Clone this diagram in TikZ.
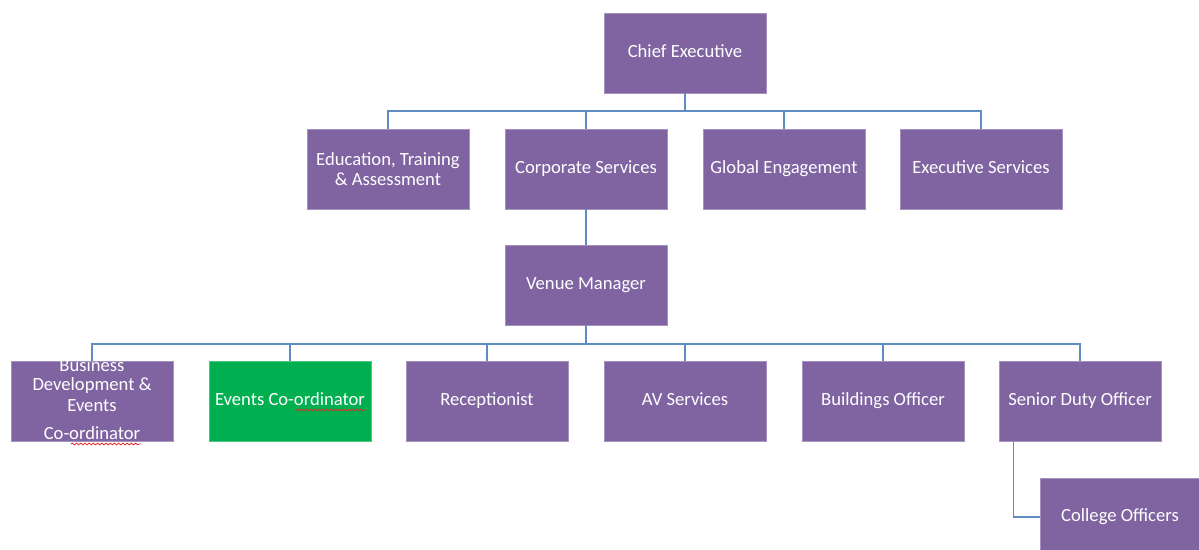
\documentclass[tikz,border=0pt]{standalone}
\usepackage{fontspec}
\setmainfont{Carlito}
\usetikzlibrary{decorations.pathmorphing}

\definecolor{orgpurple}{RGB}{128,100,162}
\definecolor{orggreen}{RGB}{0,176,80}
\definecolor{orgline}{RGB}{96,140,196}
\definecolor{spellred}{RGB}{230,40,40}

\tikzset{
    unit/.style={fill=orgpurple, draw=orgpurple!70!white, line width=0.4pt,
        minimum width=3.24cm, minimum height=1.6cm, inner sep=1pt,
        text=white, align=center, font=\fontsize{10.6}{11.4}\selectfont},
    unittext/.style={text=white, inner sep=0pt, font=\fontsize{10.6}{11.4}\selectfont},
    conn/.style={draw=orgline, line width=0.9pt},
    squiggle/.style={spellred, line width=0.45pt,
        decorate, decoration={snake, amplitude=0.5pt, segment length=2.4pt}}
}

\begin{document}
\begin{tikzpicture}[x=0.02cm, y=-0.02cm]
    \useasboundingbox (0,0) rectangle (1199,549);
    \clip (0,0) rectangle (1199,549);

    \node[unit] (chief) at (685,53) {\strut Chief Executive};

    \node[unit] (eta)  at (388,169) {Education, Training\\\& Assessment};
    \node[unit] (corp) at (586,169) {\strut Corporate Services};
    \node[unit] (glob) at (784,169) {\strut Global Engagement};
    \node[unit] (exec) at (981,169) {\strut Executive Services};

    \node[unit] (venue) at (586,285) {\strut Venue Manager};

    \node[unit] (bizdev) at (92,401) {};
    \node[unittext] (bd1) at (92,365) {Business};
    \node[unittext] (bd2) at (92,386) {Development \&};
    \node[unittext] (bd3) at (92,406) {Events};
    \node[unittext] (bd4) at (92,433) {Co-ordinator};
    \node[unit, fill=orggreen, draw=orggreen!70!white] (evco) at (290,401) {\strut Events Co-ordinator};
    \node[unit] (recep) at (487,401) {\strut Receptionist};
    \node[unit] (av)    at (685,401) {\strut AV Services};
    \node[unit] (build) at (883,401) {\strut Buildings Officer};
    \node[unit] (senior) at (1080,401) {\strut Senior Duty Officer};

    \node[unit, minimum width=3.2cm, minimum height=1.8cm] (college) at (1120,523) {};
    \node[unittext] (collegetxt) at (1120,517) {\strut College Officers};

    % spelling marks under "ordinator"
    \draw[squiggle] (296,410) -- (365,410);
    \draw[squiggle] (71,444) -- (141,444);

    % top level
    \coordinate (bustop) at (685,111);
    \draw[conn] (chief.south) -- (chief.south |- bustop);
    \draw[conn] (eta.north) -- (eta.north |- bustop) -- (exec.north |- bustop) -- (exec.north);
    \foreach \n in {corp,glob}
        \draw[conn] (\n.north) -- (\n.north |- bustop);

    \draw[conn] (corp.south) -- (venue.north);

    % venue team
    \coordinate (busvenue) at (586,344);
    \draw[conn] (venue.south) -- (venue.south |- busvenue);
    \draw[conn] (bizdev.north) -- (bizdev.north |- busvenue) -- (senior.north |- busvenue) -- (senior.north);
    \foreach \n in {evco,recep,av,build}
        \draw[conn] (\n.north) -- (\n.north |- busvenue);

    \draw[conn] ([xshift=0.3cm]senior.south west) |- (college.west |- collegetxt);
\end{tikzpicture}
\end{document}
